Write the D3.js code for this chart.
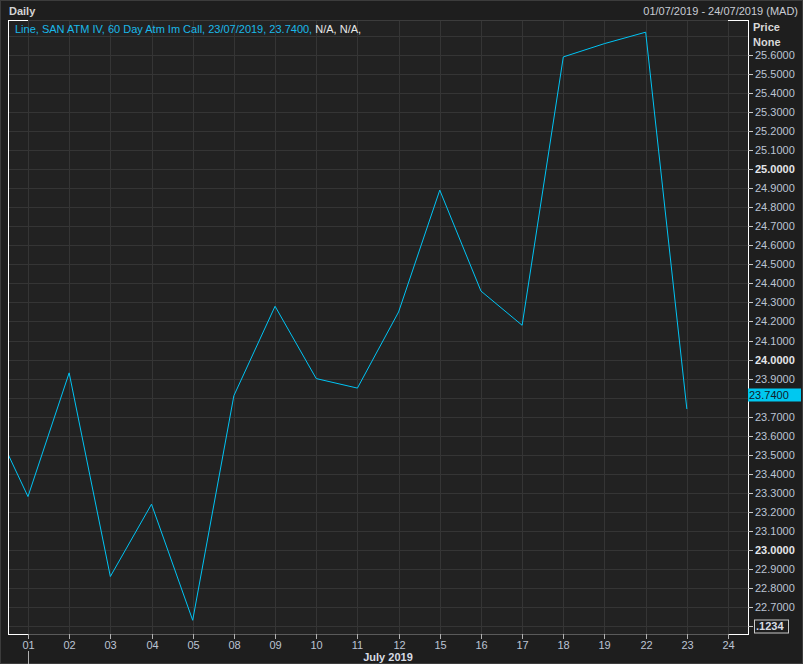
<!DOCTYPE html>
<html><head><meta charset="utf-8">
<script src="https://cdn.jsdelivr.net/npm/d3@7"></script>
<style>
html,body{margin:0;padding:0;background:#1e1e1e;}
svg{display:block;font-family:"Liberation Sans",Arial,sans-serif;}
</style></head>
<body>
<script>
// ---- data ----
const title = "Daily";
const dateRange = "01/07/2019 - 24/07/2019 (MAD)";
const legendMain = "Line, SAN ATM IV, 60 Day Atm Im Call, 23/07/2019, 23.7400,";
const legendNA = "N/A, N/A,";
const monthLabel = "July 2019";
const tickLabels = ["01","02","03","04","05","08","09","10","11","12","15","16","17","18","19","22","23","24"];
const priorValue = 23.74; // 28/06/2019, off the left edge
const values = [23.28, 23.93, 22.86, 23.24, 22.63, 23.81, 24.28, 23.90, 23.85, 24.25, 24.89, 24.36, 24.18, 25.59, 25.66, 25.72, 23.74];
const yTickValues = [22.6,22.7,22.8,22.9,23.0,23.1,23.2,23.3,23.4,23.5,23.6,23.7,23.8,23.9,24.0,24.1,24.2,24.3,24.4,24.5,24.6,24.7,24.8,24.9,25.0,25.1,25.2,25.3,25.4,25.5,25.6,25.7];
const lastValue = 23.74;

const W = 803, H = 664;
const P = {l: 8, r: 748, t: 20, b: 634};

const svg = d3.select("body").append("svg").attr("width", W).attr("height", H);
svg.append("rect").attr("x",0).attr("y",0).attr("width",W).attr("height",H).attr("fill","#1e1e1e");
svg.append("rect").attr("x",0.5).attr("y",0.5).attr("width",W-1).attr("height",H-1).attr("fill","none").attr("stroke","#3c3c3c");

const x = d3.scaleLinear().domain([-0.485, tickLabels.length - 1 + 0.485]).range([P.l, P.r]);
const y = d3.scaleLinear().domain([22.558, 25.784]).range([P.b, P.t]);

// plot background
svg.append("rect").attr("x",P.l).attr("y",P.t).attr("width",P.r-P.l).attr("height",P.b-P.t).attr("fill","#222222");

// gridlines
const grid = svg.append("g").attr("stroke","#353535").attr("stroke-width",1).attr("shape-rendering","crispEdges");
yTickValues.forEach(v => {
  grid.append("line").attr("x1",P.l).attr("x2",P.r).attr("y1",Math.round(y(v))+0.5).attr("y2",Math.round(y(v))+0.5);
});
tickLabels.forEach((t,i) => {
  grid.append("line").attr("x1",Math.round(x(i))+0.5).attr("x2",Math.round(x(i))+0.5).attr("y1",P.t).attr("y2",P.b);
});

// frame
const fr = svg.append("g").attr("shape-rendering","crispEdges");
fr.append("line").attr("x1",P.l).attr("x2",P.r).attr("y1",P.t+0.5).attr("y2",P.t+0.5).attr("stroke","#3c3c3c");
fr.append("line").attr("x1",P.l).attr("x2",P.r).attr("y1",P.b+0.5).attr("y2",P.b+0.5).attr("stroke","#5a5a5a");
[[P.l, x(0)],[x(tickLabels.length-1), P.r]].forEach(([a,b]) => {
  fr.append("line").attr("x1",a).attr("x2",b).attr("y1",P.t+0.5).attr("y2",P.t+0.5).attr("stroke","#ffffff");
  fr.append("line").attr("x1",a).attr("x2",b).attr("y1",P.b+0.5).attr("y2",P.b+0.5).attr("stroke","#ffffff");
});
fr.append("line").attr("x1",P.l+0.5).attr("x2",P.l+0.5).attr("y1",P.t).attr("y2",P.b+1).attr("stroke","#ffffff");
fr.append("line").attr("x1",P.r+0.5).attr("x2",P.r+0.5).attr("y1",P.t).attr("y2",P.b+1).attr("stroke","#ffffff");

// line
svg.append("clipPath").attr("id","clip").append("rect").attr("x",P.l+1).attr("y",P.t).attr("width",P.r-P.l-1).attr("height",P.b-P.t);
const pts = [{i:-1, v:priorValue}].concat(values.map((v,i)=>({i, v})));
svg.append("path").datum(pts).attr("clip-path","url(#clip)")
  .attr("fill","none").attr("stroke","#00c4f4").attr("stroke-width",1)
  .attr("d", d3.line().x(d=>x(d.i)).y(d=>y(d.v)));

// header
svg.append("text").attr("x",9).attr("y",15).attr("font-size",11).attr("font-weight","bold").attr("fill","#d4d4d4").text(title);
svg.append("text").attr("x",798).attr("y",15).attr("text-anchor","end").attr("font-size",11).attr("fill","#c8ccd4").text(dateRange);
const lg = svg.append("text").attr("x",15).attr("y",33).attr("font-size",11);
lg.append("tspan").attr("fill","#1ab8e8").text(legendMain + " ");
lg.append("tspan").attr("fill","#e8e8e8").text(legendNA);

// right axis
svg.append("text").attr("x",753).attr("y",31).attr("font-size",11).attr("font-weight","bold").attr("fill","#d8d8d8").text("Price");
svg.append("text").attr("x",753).attr("y",46).attr("font-size",11).attr("font-weight","bold").attr("fill","#d8d8d8").text("None");
// tag takes the place of the tick label just above the last value
const tagTick = Math.ceil(lastValue * 10) / 10;
const ya = svg.append("g");
yTickValues.filter(v => v < 25.65).forEach(v => {
  const yy = Math.round(y(v)) + 0.5;
  ya.append("line").attr("x1",P.r).attr("x2",P.r+5).attr("y1",yy).attr("y2",yy).attr("stroke","#c8c8c8").attr("shape-rendering","crispEdges");
  const isInt = Math.abs(v - Math.round(v)) < 1e-6;
  if (Math.abs(v - tagTick) < 1e-6) return;
  if (Math.abs(v - 22.6) < 1e-6) {
    ya.append("rect").attr("x",754.5).attr("y",yy-6.5).attr("width",34).attr("height",13).attr("fill","none").attr("stroke","#c8c8c8");
    ya.append("text").attr("x",756).attr("y",yy).attr("dy","0.35em").attr("font-size",11).attr("font-weight","bold").attr("fill","#d8dce4").text(".1234");
  } else {
    ya.append("text").attr("x",755).attr("y",yy).attr("dy","0.35em").attr("font-size",11)
      .attr("font-weight", isInt ? "bold" : "normal").attr("fill", isInt ? "#e4e6ea" : "#bcc4d4")
      .text(d3.format(".4f")(v));
  }
});
// last value tag
const ly = Math.round(y(tagTick)) - 3;
svg.append("rect").attr("x",748).attr("y",ly-6.5).attr("width",53).attr("height",13).attr("fill","#00c8f0");
svg.append("text").attr("x",749).attr("y",ly).attr("dy","0.35em").attr("font-size",11).attr("fill","#10202a").text(d3.format(".4f")(lastValue));

// bottom axis
const xa = svg.append("g");
tickLabels.forEach((t,i) => {
  const xx = Math.round(x(i)) + 0.5;
  xa.append("line").attr("x1",xx).attr("x2",xx).attr("y1",P.b).attr("y2",P.b+5).attr("stroke","#b0b0b0").attr("shape-rendering","crispEdges");
  xa.append("text").attr("x",xx).attr("y",649).attr("text-anchor","middle").attr("font-size",11).attr("fill","#bcc4d4").text(t);
});
xa.append("line").attr("x1",Math.round(x(0))+0.5).attr("x2",Math.round(x(0))+0.5).attr("y1",651).attr("y2",664).attr("stroke","#b0b0b0").attr("shape-rendering","crispEdges");
xa.append("text").attr("x",388).attr("y",661).attr("text-anchor","middle").attr("font-size",11).attr("font-weight","bold").attr("fill","#d8dce4").text(monthLabel);
</script>
</body></html>
